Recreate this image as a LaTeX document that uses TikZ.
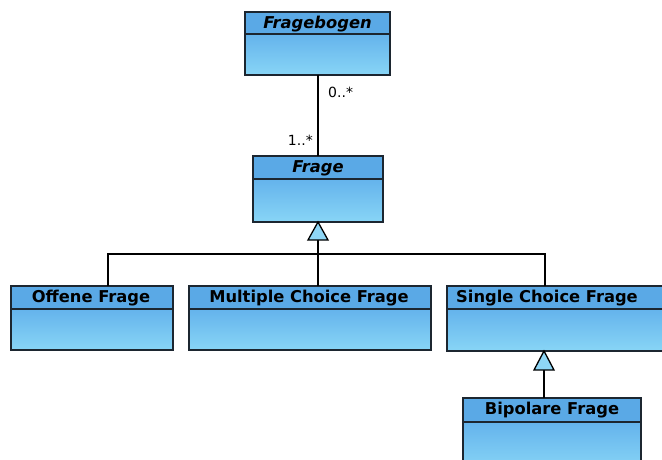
\documentclass[tikz,border=0pt]{standalone}
\usepackage{fontspec}
\setmainfont{DejaVu Sans}
\usetikzlibrary{calc}
\definecolor{hdr}{HTML}{5AA9E6}
\definecolor{bodytop}{HTML}{64B3EC}
\definecolor{bodybot}{HTML}{88D5F6}
\definecolor{edge}{HTML}{1C2630}
\definecolor{trifill}{HTML}{8ED6F6}
\tikzset{
  x=1pt, y=-1pt,
  hdrbox/.style={fill=hdr, draw=edge, line width=1.3pt},
  bodybox/.style={top color=bodytop, bottom color=bodybot, draw=edge, line width=1.3pt},
  ctitle/.style={font=\bfseries\fontsize{16.3}{19}\selectfont, inner sep=0pt, anchor=center},
  atitle/.style={font=\bfseries\itshape\fontsize{16.3}{19}\selectfont, inner sep=0pt, anchor=center},
  mult/.style={font=\fontsize{14}{16}\selectfont, inner sep=0pt},
  conn/.style={draw=black, line width=1.3pt},
  gen/.style={draw=black, line width=1.3pt, fill=trifill, line join=miter},
}
\begin{document}
\begin{tikzpicture}
\useasboundingbox (0,0) rectangle (662,459);
\clip (0,0) rectangle (662,459);

% Fragebogen
\path[bodybox] (245,34) rectangle (390,75);
\path[hdrbox] (245,12) rectangle (390,34);
\node[atitle] (fb) at (317.5,24.5) {Fragebogen};
\coordinate (fbbot) at (318,75);

% Frage
\path[bodybox] (253,179) rectangle (383,222);
\path[hdrbox] (253,156) rectangle (383,179);
\node[atitle] (fr) at (318,168.5) {Frage};
\coordinate (frtop) at (318,156);
\coordinate (frbot) at (318,222);

% Offene Frage
\path[bodybox] (11,309) rectangle (173,350);
\path[hdrbox] (11,286) rectangle (173,309);
\node[ctitle] (of) at (91,298.5) {Offene Frage};
\coordinate (oftop) at (108,286);

% Multiple Choice Frage
\path[bodybox] (189,309) rectangle (431,350);
\path[hdrbox] (189,286) rectangle (431,309);
\node[ctitle] (mc) at (309,298.5) {Multiple Choice Frage};
\coordinate (mctop) at (318,286);

% Single Choice Frage
\path[bodybox] (447,309) rectangle (666,351);
\path[hdrbox] (447,286) rectangle (666,309);
\node[ctitle] (sc) at (547,298.5) {Single Choice Frage};
\coordinate (sctop) at (545,286);
\coordinate (scbot) at (544,351);

% Bipolare Frage
\path[bodybox] (463,422) rectangle (641,470);
\path[hdrbox] (463,398) rectangle (641,422);
\node[ctitle] (bp) at (552,410.5) {Bipolare Frage};
\coordinate (bptop) at (544,398);

% association
\draw[conn] (fbbot) -- (frtop);
\node[mult, anchor=west] (m0) at (328,92) {0..*};
\node[mult, anchor=east] (m1) at (313,140) {1..*};

% generalization Frage
\coordinate (frbase) at ($(frbot)+(0,18)$);
\coordinate (junc) at (318,254);
\draw[conn] (oftop) |- (junc);
\draw[conn] (sctop) |- (junc);
\draw[conn] (mctop) -- (junc) -- (frbase);
\path[gen] (frbot) -- ($(frbase)+(-10,0)$) -- ($(frbase)+(10,0)$) -- cycle;

% generalization Single Choice
\coordinate (scbase) at ($(scbot)+(0,19)$);
\draw[conn] (bptop) -- (scbase);
\path[gen] (scbot) -- ($(scbase)+(-10,0)$) -- ($(scbase)+(10,0)$) -- cycle;
\end{tikzpicture}
\end{document}
